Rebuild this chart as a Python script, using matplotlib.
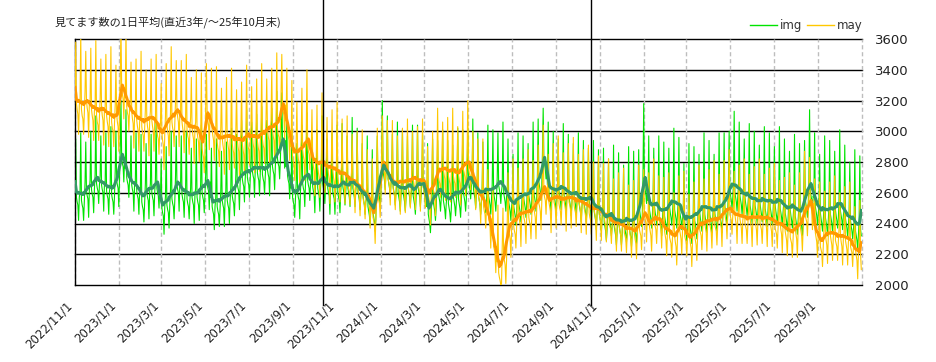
"""Daily 'mitemasu' counts for img / may over the last 3 years, with 7-day averages."""

import matplotlib

matplotlib.use("Agg")
import matplotlib.pyplot as plt  # noqa: E402
import pandas as pd  # noqa: E402
from matplotlib.lines import Line2D  # noqa: E402

TITLE = "見てます数の1日平均(直近3年/～25年10月末)"
START = "2022-11-01"
END = "2025-11-01"
SERIES_NAMES = ["img", "may"]

# daily values, in units of 10 (315 -> 3150), one week per row
img_tens = [
    263, 295, 257, 254, 252, 242, 257,  261, 299, 255, 252, 250, 242, 254,
    267, 293, 261, 258, 256, 244, 262,  268, 300, 262, 259, 257, 247, 262,
    272, 310, 266, 263, 261, 253, 265,  271, 297, 265, 262, 260, 248, 266,
    267, 299, 261, 258, 256, 246, 261,  265, 303, 259, 256, 254, 246, 258,
    274, 300, 268, 265, 263, 251, 269,  288, 320, 282, 279, 277, 267, 282,
    276, 314, 270, 267, 265, 257, 269,  271, 297, 265, 262, 260, 248, 266,
    267, 299, 261, 258, 256, 246, 261,  260, 298, 254, 251, 249, 241, 253,
    266, 292, 260, 257, 255, 243, 261,  266, 298, 260, 257, 255, 245, 260,
    269, 307, 263, 260, 258, 250, 262,  256, 282, 250, 247, 245, 233, 251,
    258, 290, 252, 249, 247, 237, 252,  262, 300, 256, 253, 251, 243, 255,
    271, 297, 265, 262, 260, 248, 266,  265, 297, 259, 256, 254, 244, 259,
    262, 300, 256, 253, 251, 243, 255,  263, 289, 257, 254, 252, 240, 258,
    263, 295, 257, 254, 252, 242, 257,  266, 304, 260, 257, 255, 247, 259,
    272, 298, 266, 263, 261, 249, 267,  257, 289, 251, 248, 246, 236, 251,
    257, 295, 251, 248, 246, 238, 250,  261, 287, 255, 252, 250, 238, 256,
    261, 293, 255, 252, 250, 240, 255,  264, 302, 258, 255, 253, 245, 257,
    272, 298, 266, 263, 261, 249, 267,  275, 307, 269, 266, 264, 254, 269,
    276, 314, 270, 267, 265, 257, 269,  280, 306, 274, 271, 269, 257, 275,
    279, 311, 273, 270, 268, 258, 273,  278, 316, 272, 269, 267, 259, 271,
    281, 307, 275, 272, 270, 258, 276,  283, 315, 277, 274, 272, 262, 277,
    288, 326, 282, 279, 277, 269, 281,  299, 325, 293, 290, 288, 276, 294,
    277, 309, 271, 268, 266, 256, 271,  263, 301, 257, 254, 252, 244, 256,
    266, 292, 260, 257, 255, 243, 261,  272, 304, 266, 263, 261, 251, 266,
    274, 312, 268, 265, 263, 255, 267,  270, 296, 264, 261, 259, 247, 265,
    269, 301, 263, 260, 258, 248, 263,  272, 310, 266, 263, 261, 253, 265,
    269, 295, 263, 260, 258, 246, 264,  267, 299, 261, 258, 256, 246, 261,
    266, 304, 260, 257, 255, 247, 259,  269, 305, 264, 261, 258, 252, 260,
    268, 297, 263, 260, 257, 251, 259,  268, 309, 263, 260, 257, 251, 261,
    266, 302, 261, 258, 255, 249, 257,  263, 292, 258, 255, 252, 246, 254,
    256, 297, 251, 248, 245, 239, 249,  252, 288, 247, 244, 241, 235, 243,
    268, 297, 263, 260, 257, 251, 259,  279, 320, 274, 271, 268, 262, 272,
    274, 310, 269, 266, 263, 257, 265,  269, 298, 264, 261, 258, 252, 260,
    265, 306, 260, 257, 254, 248, 258,  265, 301, 260, 257, 254, 248, 256,
    268, 297, 263, 260, 257, 251, 259,  263, 304, 258, 255, 252, 246, 256,
    268, 304, 263, 260, 257, 251, 259,  269, 298, 264, 261, 258, 252, 260,
    251, 292, 246, 243, 240, 234, 244,  259, 295, 254, 251, 248, 242, 250,
    265, 294, 260, 257, 254, 248, 256,  260, 301, 255, 252, 249, 243, 253,
    258, 294, 253, 250, 247, 241, 249,  262, 291, 257, 254, 251, 245, 253,
    261, 302, 256, 253, 250, 244, 254,  265, 301, 260, 257, 254, 248, 256,
    273, 302, 268, 265, 262, 256, 264,  267, 308, 262, 259, 256, 250, 260,
    263, 299, 258, 255, 252, 246, 254,  264, 293, 259, 256, 253, 247, 255,
    263, 304, 258, 255, 252, 246, 256,  265, 301, 260, 257, 254, 248, 256,
    270, 299, 265, 262, 259, 253, 261,  265, 306, 260, 257, 254, 248, 258,
    259, 295, 254, 251, 248, 242, 250,  256, 285, 251, 248, 245, 239, 247,
    258, 299, 253, 250, 247, 241, 251,  261, 297, 256, 253, 250, 244, 252,
    263, 292, 258, 255, 252, 246, 254,  265, 306, 260, 257, 254, 248, 258,
    272, 308, 267, 264, 261, 255, 263,  286, 315, 281, 278, 275, 269, 277,
    265, 306, 260, 257, 254, 248, 258,  264, 300, 259, 256, 253, 247, 255,
    266, 295, 261, 258, 255, 249, 257,  264, 305, 259, 256, 253, 247, 257,
    262, 298, 257, 254, 251, 245, 253,  263, 292, 258, 255, 252, 246, 254,
    258, 299, 253, 250, 247, 241, 251,  258, 294, 253, 250, 247, 241, 249,
    260, 289, 255, 252, 249, 243, 251,  253, 294, 248, 245, 242, 236, 246,
    252, 288, 247, 244, 241, 235, 243,  247, 289, 241, 238, 235, 229, 236,
    249, 282, 244, 240, 237, 232, 238,  244, 291, 238, 235, 232, 226, 235,
    244, 286, 238, 235, 232, 226, 233,  245, 278, 240, 236, 233, 228, 234,
    243, 290, 237, 234, 231, 225, 234,  245, 287, 239, 236, 233, 227, 234,
    255, 288, 250, 246, 243, 238, 244,  271, 318, 265, 262, 259, 253, 262,
    255, 297, 249, 246, 243, 237, 244,  256, 289, 251, 247, 244, 239, 245,
    250, 297, 244, 241, 238, 232, 241,  251, 293, 245, 242, 239, 233, 240,
    256, 289, 251, 247, 244, 239, 245,  255, 302, 249, 246, 243, 237, 246,
    254, 296, 248, 245, 242, 236, 243,  246, 279, 241, 237, 234, 229, 235,
    245, 292, 239, 236, 233, 227, 236,  248, 290, 242, 239, 236, 230, 237,
    252, 285, 247, 243, 240, 235, 241,  252, 299, 246, 243, 240, 234, 243,
    252, 294, 246, 243, 240, 234, 241,  252, 285, 247, 243, 240, 235, 241,
    252, 299, 246, 243, 240, 234, 243,  257, 299, 251, 248, 245, 239, 246,
    267, 300, 262, 258, 255, 250, 256,  266, 313, 260, 257, 254, 248, 257,
    264, 306, 258, 255, 252, 246, 253,  262, 295, 257, 253, 250, 245, 251,
    258, 305, 252, 249, 246, 240, 249,  258, 300, 252, 249, 246, 240, 247,
    258, 291, 253, 249, 246, 241, 247,  256, 303, 250, 247, 244, 238, 247,
    257, 299, 251, 248, 245, 239, 246,  257, 290, 252, 248, 245, 240, 246,
    256, 303, 250, 247, 244, 238, 247,  253, 295, 247, 244, 241, 235, 242,
    254, 287, 249, 245, 242, 237, 243,  251, 298, 245, 242, 239, 233, 242,
    250, 292, 244, 241, 238, 232, 239,  261, 294, 256, 252, 249, 244, 250,
    267, 314, 261, 258, 255, 249, 258,  257, 299, 251, 248, 245, 239, 246,
    252, 285, 247, 243, 240, 235, 241,  250, 297, 244, 241, 238, 232, 241,
    252, 294, 246, 243, 240, 234, 241,  254, 287, 249, 245, 242, 237, 243,
    254, 301, 248, 245, 242, 236, 245,  249, 291, 243, 240, 237, 231, 238,
    247, 280, 242, 238, 235, 230, 236,  241, 288, 235, 232, 229, 223, 232,
    242, 284, 236, 232,
]

may_tens = [
    324, 358, 318, 314, 311, 298, 317,  320, 363, 314, 310, 308, 298, 313,
    326, 352, 320, 315, 312, 296, 319,  320, 354, 314, 310, 307, 294, 313,
    316, 359, 310, 306, 304, 294, 309,  321, 347, 315, 310, 307, 291, 314,
    316, 350, 310, 306, 303, 290, 309,  312, 355, 306, 302, 300, 290, 305,
    317, 343, 311, 306, 303, 287, 310,  334, 368, 328, 324, 321, 308, 327,
    322, 365, 316, 312, 310, 300, 315,  319, 345, 313, 308, 305, 289, 312,
    313, 347, 307, 303, 300, 287, 306,  309, 352, 303, 299, 297, 287, 302,
    314, 340, 308, 303, 300, 284, 307,  313, 347, 307, 303, 300, 287, 306,
    307, 350, 301, 297, 295, 285, 300,  305, 331, 299, 294, 291, 275, 298,
    310, 344, 304, 300, 297, 284, 303,  312, 355, 306, 302, 300, 290, 305,
    320, 346, 314, 309, 306, 290, 313,  312, 346, 306, 302, 299, 286, 305,
    307, 350, 301, 297, 295, 285, 300,  309, 335, 303, 298, 295, 279, 302,
    306, 340, 300, 296, 293, 280, 299,  295, 338, 289, 285, 283, 273, 288,
    318, 344, 312, 307, 304, 288, 311,  307, 341, 301, 297, 294, 281, 300,
    299, 342, 293, 289, 287, 277, 292,  302, 328, 296, 291, 288, 272, 295,
    301, 335, 295, 291, 288, 275, 294,  298, 341, 292, 288, 286, 276, 291,
    301, 327, 295, 290, 287, 271, 294,  298, 332, 292, 288, 285, 272, 291,
    300, 343, 294, 290, 288, 278, 293,  303, 329, 297, 292, 289, 273, 296,
    300, 334, 294, 290, 287, 274, 293,  301, 344, 295, 291, 289, 279, 294,
    308, 334, 302, 297, 294, 278, 301,  307, 341, 301, 297, 294, 281, 300,
    308, 351, 302, 298, 296, 286, 301,  324, 350, 318, 313, 310, 294, 317,
    307, 341, 301, 297, 294, 281, 300,  290, 333, 284, 280, 278, 268, 283,
    293, 319, 287, 282, 279, 263, 286,  294, 328, 288, 284, 281, 268, 287,
    297, 340, 291, 287, 285, 275, 290,  288, 314, 282, 277, 274, 258, 281,
    283, 317, 277, 273, 270, 257, 276,  282, 325, 276, 272, 270, 260, 275,
    283, 309, 277, 272, 269, 253, 276,  280, 314, 274, 270, 267, 254, 273,
    276, 319, 270, 266, 264, 254, 269,  277, 308, 270, 268, 265, 253, 270,
    273, 310, 266, 263, 261, 252, 265,  273, 298, 267, 264, 261, 247, 266,
    269, 300, 262, 260, 257, 245, 262,  264, 301, 257, 254, 252, 243, 256,
    263, 288, 257, 254, 251, 237, 256,  251, 282, 244, 242, 239, 227, 244,
    265, 302, 258, 255, 253, 244, 257,  285, 310, 279, 276, 273, 259, 278,
    276, 307, 269, 267, 264, 252, 269,  270, 307, 263, 260, 258, 249, 262,
    272, 297, 266, 263, 260, 246, 265,  271, 302, 264, 262, 259, 247, 264,
    271, 308, 264, 261, 259, 250, 263,  275, 300, 269, 266, 263, 249, 268,
    272, 303, 265, 263, 260, 248, 265,  271, 308, 264, 261, 259, 250, 263,
    265, 290, 259, 256, 253, 239, 258,  269, 300, 262, 260, 257, 245, 262,
    278, 315, 271, 268, 266, 257, 270,  281, 306, 275, 272, 269, 255, 274,
    278, 309, 271, 269, 266, 254, 271,  278, 315, 271, 268, 266, 257, 270,
    278, 303, 272, 269, 266, 252, 271,  282, 313, 275, 273, 270, 258, 275,
    283, 320, 276, 273, 271, 262, 275,  275, 300, 269, 266, 263, 249, 268,
    264, 295, 257, 255, 252, 240, 257,  258, 295, 251, 248, 246, 237, 250,
    250, 275, 244, 241, 238, 224, 243,  232, 263, 225, 223, 220, 208, 225,
    215, 252, 208, 205, 203, 200, 201,  225, 250, 219, 216, 213, 201, 216,
    242, 273, 235, 233, 230, 218, 235,  245, 282, 238, 235, 233, 224, 237,
    251, 276, 245, 242, 239, 225, 244,  251, 282, 244, 242, 239, 227, 244,
    251, 288, 244, 241, 239, 230, 243,  256, 281, 250, 247, 244, 230, 249,
    260, 291, 253, 251, 248, 236, 253,  267, 304, 260, 257, 255, 246, 259,
    260, 285, 254, 251, 248, 234, 253,  261, 292, 254, 252, 249, 237, 254,
    260, 297, 253, 250, 248, 239, 252,  261, 286, 255, 252, 249, 235, 254,
    261, 292, 254, 252, 249, 237, 254,  259, 296, 252, 249, 247, 238, 251,
    260, 285, 254, 251, 248, 234, 253,  257, 288, 250, 248, 245, 233, 250,
    254, 291, 247, 244, 242, 233, 246,  255, 280, 249, 246, 243, 229, 248,
    253, 284, 246, 244, 241, 229, 246,  249, 279, 244, 241, 238, 228, 243,
    246, 282, 240, 238, 236, 227, 239,  245, 269, 241, 237, 234, 222, 239,
    243, 273, 238, 235, 232, 222, 237,  240, 276, 234, 232, 230, 221, 233,
    241, 265, 237, 233, 230, 218, 235,  238, 268, 233, 230, 227, 217, 232,
    242, 278, 236, 234, 232, 223, 235,  251, 275, 247, 243, 240, 228, 245,
    243, 273, 238, 235, 232, 222, 237,  246, 282, 240, 238, 236, 227, 239,
    247, 271, 243, 239, 236, 224, 241,  240, 270, 235, 232, 229, 219, 234,
    237, 273, 231, 229, 227, 218, 230,  236, 260, 232, 228, 225, 213, 230,
    241, 271, 236, 233, 230, 220, 235,  238, 274, 232, 230, 228, 219, 231,
    235, 259, 231, 227, 224, 212, 229,  237, 267, 232, 229, 226, 216, 231,
    242, 278, 236, 234, 232, 223, 235,  245, 269, 241, 237, 234, 222, 239,
    245, 275, 240, 237, 234, 224, 239,  245, 281, 239, 237, 235, 226, 238,
    248, 272, 244, 240, 237, 225, 242,  251, 281, 246, 243, 240, 230, 245,
    252, 288, 246, 244, 242, 233, 245,  250, 274, 246, 242, 239, 227, 244,
    248, 278, 243, 240, 237, 227, 242,  246, 282, 240, 238, 236, 227, 239,
    248, 272, 244, 240, 237, 225, 242,  247, 277, 242, 239, 236, 226, 241,
    246, 282, 240, 238, 236, 227, 239,  248, 272, 244, 240, 237, 225, 242,
    246, 276, 241, 238, 235, 225, 240,  243, 279, 237, 235, 233, 224, 236,
    244, 268, 240, 236, 233, 221, 238,  240, 270, 235, 232, 229, 219, 234,
    237, 273, 231, 229, 227, 218, 230,  241, 265, 237, 233, 230, 218, 235,
    243, 273, 238, 235, 232, 222, 237,  251, 287, 245, 243, 241, 232, 244,
    259, 283, 255, 251, 248, 236, 253,  239, 269, 234, 231, 228, 218, 233,
    231, 267, 225, 223, 221, 212, 224,  237, 261, 233, 229, 226, 214, 231,
    237, 267, 232, 229, 226, 216, 231,  235, 271, 229, 227, 225, 216, 228,
    236, 260, 232, 228, 225, 213, 230,  234, 264, 229, 226, 223, 213, 228,
    231, 267, 225, 223, 221, 212, 224,  227, 251, 223, 219, 216, 204, 221,
    225, 255, 220, 210,
]

# the two solid black markers crossing the chart
MARKER_DATES = ["2023-10-12", "2024-10-20"]

GREEN = "#00e400"
YELLOW = "#ffc800"
TEAL = "#339966"
ORANGE = "#ff9900"
GRID_GRAY = "#bdbdbd"

plt.rcParams["font.family"] = ["DejaVu Sans", "Noto Sans CJK JP"]

days = pd.date_range(START, periods=len(may_tens), freq="D")
img = pd.Series(img_tens, index=days) * 10
may = pd.Series(may_tens, index=days) * 10
img_ma = img.rolling(7, center=True, min_periods=1).mean()
may_ma = may.rolling(7, center=True, min_periods=1).mean()

fig = plt.figure(figsize=(9.36, 3.62), dpi=100)
ax = fig.add_axes([75 / 936, 1 - 285 / 362, 787 / 936, 246 / 362])

ax.plot(days, img.values, color=GREEN, lw=0.8, zorder=2)
ax.plot(days, may.values, color=YELLOW, lw=0.8, zorder=3)
ax.plot(days, may_ma.values, color=ORANGE, lw=2.2, zorder=4)
ax.plot(days, img_ma.values, color=TEAL, lw=2.2, zorder=5)

ax.set_xlim(pd.Timestamp(START), pd.Timestamp(END))
ax.set_ylim(2000, 3600)

# y axis on the right, black solid grid
yt = list(range(2000, 3601, 200))
ax.yaxis.tick_right()
ax.set_yticks(yt)
ax.set_yticklabels([str(v) for v in yt], fontsize=9.5, color="#222222")
for v in yt[1:]:
    ax.axhline(v, color="black", lw=1.0, zorder=1, clip_on=False)

# x ticks every two months, dashed gray grid
xt = pd.date_range(START, "2025-09-01", freq="2MS")
ax.set_xticks(xt)
ax.set_xticklabels([f"{d.year}/{d.month}/{d.day}" for d in xt], rotation=45,
                   ha="right", fontsize=8.5, color="#222222")
for d in list(xt) + [pd.Timestamp(END)]:
    ax.axvline(d, color=GRID_GRAY, lw=1.0, ls=(0, (3, 2)), zorder=1, clip_on=False)
ax.tick_params(axis="both", length=0)
ax.tick_params(axis="x", pad=10)
ax.tick_params(axis="y", pad=9)

for s in ("top", "right"):
    ax.spines[s].set_visible(False)
for s in ("left", "bottom"):
    ax.spines[s].set_color("black")
    ax.spines[s].set_linewidth(1.0)

# black vertical markers run from the very top to below the axis
for d in MARKER_DATES:
    ax.plot([pd.Timestamp(d)] * 2, [-20 / 246, 285 / 246], color="black", lw=1.0,
            transform=ax.get_xaxis_transform(), clip_on=False, zorder=6)

fig.text(55 / 936, 1 - 22 / 362, TITLE, ha="left", va="center", fontsize=8,
         family=["Noto Sans CJK JP", "DejaVu Sans"], color="#222222")

# legend drawn by hand at the top right
ly = 1 - 25 / 362
for (x0, x1, tx), name, col in zip([(750, 777, 780), (807, 834, 837)], SERIES_NAMES,
                                   [GREEN, YELLOW]):
    fig.add_artist(Line2D([x0 / 936, x1 / 936], [ly, ly], color=col, lw=1.0))
    fig.text(tx / 936, ly, name, ha="left", va="center", fontsize=8.5, color="#333333")

fig.savefig("out.png", dpi=100, facecolor="white")
